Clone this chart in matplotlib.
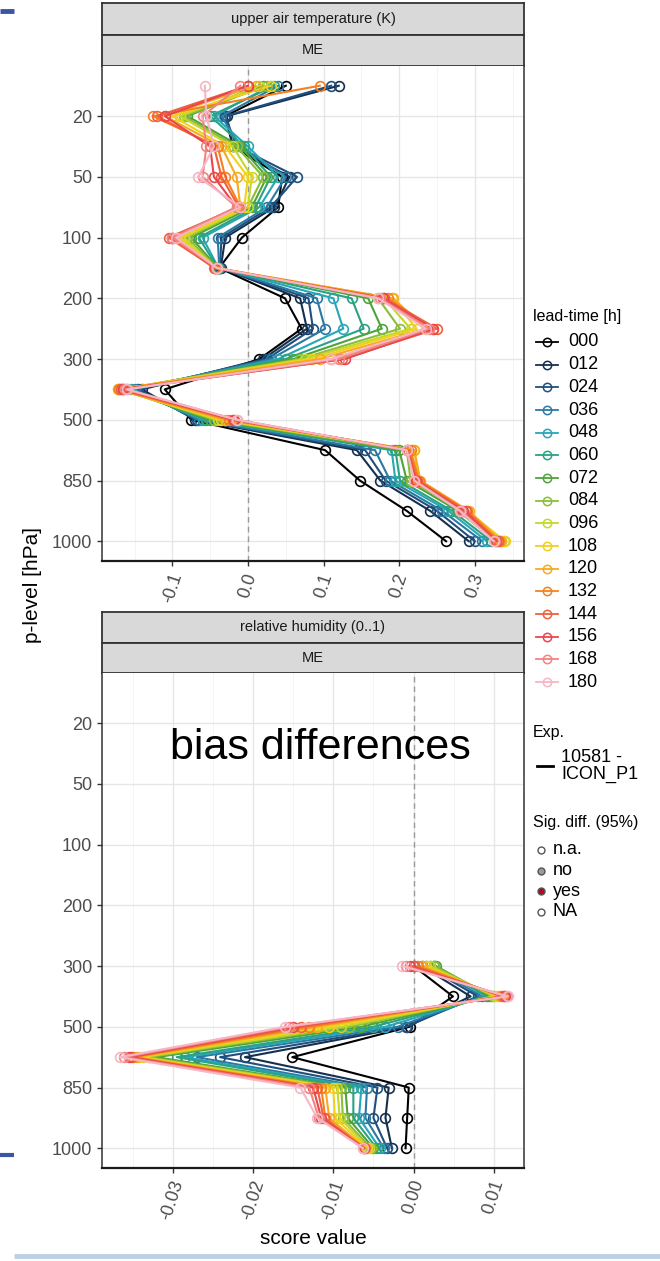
import numpy as np
import matplotlib
matplotlib.use('Agg')
import matplotlib.pyplot as plt

plt.rcParams['font.family'] = ['Liberation Sans', 'DejaVu Sans']

# pressure levels (categorical y axis), labels only on every other level
levels = [10, 20, 30, 50, 70, 100, 150, 200, 250, 300, 400, 500, 700, 850, 925, 1000]
labelled_levels = [20, 50, 100, 200, 300, 500, 850, 1000]

lead_times = ['000', '012', '024', '036', '048', '060', '072', '084',
              '096', '108', '120', '132', '144', '156', '168', '180']
lead_colors = ['#000000', '#15304f', '#1f4f7d', '#2b79a3', '#27a6b8', '#2aa283',
               '#4ea33a', '#8bbd3b', '#c4d82a', '#f2d01c', '#f6aa1f', '#f6801f',
               '#f0603a', '#e8464f', '#f2837f', '#f6b6c4']

# upper air temperature ME, one list per level, values ordered by lead time
t_10 = [0.050, 0.120, 0.110, 0.040, 0.030, 0.035, 0.020, 0.025, 0.015, 0.030, 0.010, 0.095, 0.000, 0.000, -0.010, -0.057]
t_20 = [-0.030, -0.028, -0.030, -0.035, -0.045, -0.050, -0.080, -0.085, -0.090, -0.100, -0.110, -0.126, -0.120, -0.110, -0.060, -0.055]
t_30 = [-0.020, -0.020, -0.015, -0.010, 0.000, -0.005, -0.010, -0.015, -0.020, -0.030, -0.035, -0.040, -0.045, -0.050, -0.055, -0.045]
t_50 = [0.045, 0.055, 0.065, 0.050, 0.040, 0.030, 0.025, 0.020, 0.005, 0.000, -0.015, -0.030, -0.035, -0.045, -0.060, -0.066]
t_70 = [0.040, 0.035, 0.030, 0.025, 0.015, 0.010, 0.005, 0.000, 0.000, -0.005, -0.010, -0.010, -0.012, -0.015, -0.015, -0.010]
t_100 = [-0.008, -0.030, -0.035, -0.040, -0.060, -0.065, -0.075, -0.080, -0.085, -0.090, -0.095, -0.100, -0.105, -0.100, -0.100, -0.095]
t_150 = [-0.038, -0.036, -0.037, -0.038, -0.039, -0.040, -0.040, -0.041, -0.042, -0.042, -0.043, -0.045, -0.044, -0.043, -0.042, -0.041]
t_200 = [0.049, 0.069, 0.080, 0.091, 0.113, 0.137, 0.159, 0.172, 0.180, 0.190, 0.192, 0.185, 0.180, 0.178, 0.175, 0.172]
t_250 = [0.071, 0.078, 0.086, 0.102, 0.126, 0.153, 0.177, 0.201, 0.215, 0.223, 0.235, 0.245, 0.250, 0.245, 0.240, 0.235]
t_300 = [0.015, 0.020, 0.025, 0.030, 0.040, 0.050, 0.060, 0.069, 0.075, 0.085, 0.095, 0.110, 0.125, 0.128, 0.120, 0.110]
t_400 = [-0.110, -0.140, -0.145, -0.150, -0.155, -0.160, -0.165, -0.168, -0.170, -0.172, -0.172, -0.170, -0.168, -0.165, -0.162, -0.160]
t_500 = [-0.075, -0.070, -0.068, -0.065, -0.060, -0.055, -0.050, -0.045, -0.040, -0.035, -0.030, -0.025, -0.020, -0.018, -0.015, -0.015]
t_700 = [0.102, 0.144, 0.155, 0.168, 0.190, 0.195, 0.200, 0.210, 0.215, 0.220, 0.220, 0.215, 0.212, 0.210, 0.210, 0.210]
t_850 = [0.148, 0.175, 0.182, 0.188, 0.195, 0.201, 0.210, 0.215, 0.220, 0.225, 0.228, 0.226, 0.224, 0.222, 0.220, 0.220]
t_925 = [0.210, 0.241, 0.250, 0.257, 0.265, 0.270, 0.278, 0.283, 0.288, 0.290, 0.292, 0.290, 0.288, 0.285, 0.282, 0.280]
t_1000 = [0.262, 0.292, 0.300, 0.310, 0.316, 0.322, 0.328, 0.334, 0.338, 0.340, 0.335, 0.332, 0.330, 0.328, 0.326, 0.325]
temp_rows = [t_10, t_20, t_30, t_50, t_70, t_100, t_150, t_200, t_250, t_300,
             t_400, t_500, t_700, t_850, t_925, t_1000]

# relative humidity ME, only 300..1000 hPa
rh_levels = [300, 400, 500, 700, 850, 925, 1000]
rh_300 = [0.0000, 0.0010, 0.0015, 0.0020, 0.0025, 0.0025, 0.0028, 0.0025, 0.0020, 0.0015, 0.0010, 0.0005, 0.0000, -0.0005, -0.0010, -0.0014]
rh_400 = [0.0049, 0.0071, 0.0080, 0.0085, 0.0090, 0.0093, 0.0096, 0.0099, 0.0102, 0.0105, 0.0108, 0.0110, 0.0112, 0.0114, 0.0116, 0.0117]
rh_500 = [-0.0005, -0.0008, -0.0010, -0.0020, -0.0035, -0.0050, -0.0065, -0.0080, -0.0090, -0.0105, -0.0120, -0.0130, -0.0140, -0.0150, -0.0155, -0.0160]
rh_700 = [-0.0151, -0.0210, -0.0241, -0.0270, -0.0285, -0.0295, -0.0320, -0.0330, -0.0337, -0.0342, -0.0345, -0.0350, -0.0352, -0.0355, -0.0360, -0.0366]
rh_850 = [-0.0006, -0.0031, -0.0045, -0.0058, -0.0065, -0.0075, -0.0085, -0.0090, -0.0095, -0.0100, -0.0110, -0.0115, -0.0120, -0.0125, -0.0130, -0.0141]
rh_925 = [-0.0008, -0.0035, -0.0050, -0.0060, -0.0068, -0.0075, -0.0082, -0.0088, -0.0092, -0.0098, -0.0105, -0.0110, -0.0112, -0.0115, -0.0118, -0.0120]
rh_1000 = [-0.0010, -0.0027, -0.0033, -0.0037, -0.0042, -0.0046, -0.0050, -0.0053, -0.0056, -0.0058, -0.0060, -0.0061, -0.0062, -0.0062, -0.0063, -0.0063]
rh_rows = [rh_300, rh_400, rh_500, rh_700, rh_850, rh_925, rh_1000]

top_ticks = [-0.1, 0.0, 0.1, 0.2, 0.3]
top_ticklabels = ['-0.1', '0.0', '0.1', '0.2', '0.3']
bot_ticks = [-0.03, -0.02, -0.01, 0.0, 0.01]
bot_ticklabels = ['-0.03', '-0.02', '-0.01', '0.00', '0.01']

sig_labels = ['n.a.', 'no', 'yes', 'NA']
sig_fill = ['white', '#9a9a9a', '#c8001e', 'white']

W, H = 660, 1261
fig = plt.figure(figsize=(W / 100, H / 100), dpi=100)


def box(x0, y0, x1, y1):
    return [x0 / W, 1 - y1 / H, (x1 - x0) / W, (y1 - y0) / H]


def strip(y0, y1, text):
    s = fig.add_axes(box(102, y0, 524, y1))
    s.set_facecolor('#d9d9d9')
    s.set_xticks([])
    s.set_yticks([])
    for sp in s.spines.values():
        sp.set_color('#333333')
        sp.set_linewidth(1.3)
    s.text(0.5, 0.5, text, ha='center', va='center', fontsize=10.5, color='#1a1a1a',
           transform=s.transAxes)


def panel(y0, y1, rows, row_levels, xlim, ticks, ticklabels, minor):
    ax = fig.add_axes(box(102, y0, 524, y1))
    ypos = [levels.index(l) for l in row_levels]
    vals = np.array(rows)
    for i, (lt, c) in enumerate(zip(lead_times, lead_colors)):
        ax.plot(vals[:, i], ypos, color=c, lw=1.5, marker='o', ms=7,
                mfc='none', mec=c, mew=1.2, zorder=3)
    ax.axvline(0, color='#9a9a9a', lw=1, ls=(0, (4, 3)), zorder=2)
    ax.set_xlim(*xlim)
    ax.set_ylim(len(levels) - 1 + 0.65, -0.65)
    ax.set_yticks([levels.index(l) for l in labelled_levels])
    ax.set_yticklabels([str(l) for l in labelled_levels])
    ax.set_xticks(ticks)
    ax.set_xticklabels(ticklabels, rotation=72, ha='center', va='top')
    ax.set_xticks(minor, minor=True)
    ax.grid(True, which='major', color='#e6e6e6', lw=1.0, zorder=0)
    ax.grid(True, which='minor', axis='x', color='#f2f2f2', lw=0.6, zorder=0)
    ax.set_axisbelow(True)
    ax.tick_params(which='major', labelsize=13, labelcolor='#4d4d4d', color='#333333',
                   length=3.5, width=1)
    ax.tick_params(which='minor', length=0)
    for name, sp in ax.spines.items():
        sp.set_color('#333333')
        sp.set_linewidth(1.1)
    ax.spines['top'].set_visible(False)
    ax.spines['bottom'].set_color('#1a1a1a')
    ax.spines['bottom'].set_linewidth(1.6)
    return ax


strip(3, 35, 'upper air temperature (K)')
strip(35, 66, 'ME')
ax1 = panel(66, 561, temp_rows, levels, (-0.193, 0.365), top_ticks, top_ticklabels,
            [-0.15, -0.05, 0.05, 0.15, 0.25, 0.35])

strip(612, 643, 'relative humidity (0..1)')
strip(643, 673, 'ME')
ax2 = panel(673, 1168, rh_rows, rh_levels, (-0.0388, 0.01375), bot_ticks, bot_ticklabels,
            [-0.035, -0.025, -0.015, -0.005, 0.005])
ax2.text(0.517, 0.848, 'bias differences', transform=ax2.transAxes, ha='center',
         va='center', fontsize=31, color='black')

fig.text(33 / W, 1 - 585 / H, 'p-level [hPa]', rotation=90, ha='center', va='center',
         fontsize=15)
fig.text(313 / W, 1 - 1238 / H, 'score value', ha='center', va='center', fontsize=15)

# overlay in pixel units for the legends and the slide decoration
ov = fig.add_axes([0, 0, 1, 1], facecolor='none')
ov.set_xlim(0, W)
ov.set_ylim(H, 0)
ov.axis('off')

ov.text(533, 316, 'lead-time [h]', fontsize=11.5, va='center', ha='left')
for i, (lt, c) in enumerate(zip(lead_times, lead_colors)):
    yy = 342 + i * 22.67
    ov.plot([536, 558], [yy, yy], color=c, lw=1.3)
    ov.plot([547], [yy], marker='o', ms=6, mfc='none', mec=c, mew=1.1)
    ov.text(568, yy, lt, fontsize=13, va='center', ha='left')

ov.text(533, 733, 'Exp.', fontsize=11.5, va='center', ha='left')
ov.plot([537, 553], [766, 766], color='black', lw=2)
ov.text(561, 766, '10581 -\nICON_P1', fontsize=13, va='center', ha='left', linespacing=0.95)

ov.text(533, 822, 'Sig. diff. (95%)', fontsize=11.5, va='center', ha='left')
for i, (lab, fc) in enumerate(zip(sig_labels, sig_fill)):
    yy = 850 + i * 20.5
    ov.plot([541], [yy], marker='o', ms=5, mfc=fc, mec='#555555', mew=1)
    ov.text(553, yy, lab, fontsize=13, va='center', ha='left')

ov.plot([0, 14], [10.5, 10.5], color='#3b55a5', lw=3.5, solid_capstyle='butt')
ov.plot([0, 14], [1154.5, 1154.5], color='#3b55a5', lw=3, solid_capstyle='butt')
ov.plot([14, 660], [1256, 1256], color='#bcd1e4', lw=3.5, solid_capstyle='butt')

fig.savefig('out.png', dpi=100)
